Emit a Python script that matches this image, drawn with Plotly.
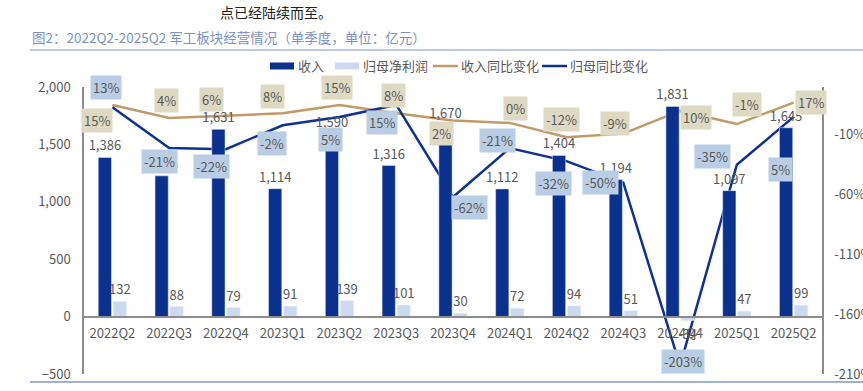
import plotly.graph_objects as go

# ---------------- data ----------------
quarters = ["2022Q2", "2022Q3", "2022Q4", "2023Q1", "2023Q2", "2023Q3", "2023Q4",
            "2024Q1", "2024Q2", "2024Q3", "2024Q4", "2025Q1", "2025Q2"]
revenue = [1386, 1226, 1631, 1114, 1590, 1316, 1670, 1112, 1404, 1194, 1831, 1097, 1645]
net_profit = [132, 88, 79, 91, 139, 101, 30, 72, 94, 51, -34, 47, 99]
revenue_yoy = [15, 4, 6, 8, 15, 8, 2, 0, -12, -9, 10, -1, 17]
net_yoy = [13, -21, -22, -2, 5, 15, -62, -21, -32, -50, -203, -35, 5]

left_ticks = [-500, 0, 500, 1000, 1500, 2000]
right_ticks = [-210, -160, -110, -60, -10]
right_tick_text = ["-210%", "-160%", "-110%", "-60%", "-10%"]

# label box offsets in pixels (dx, dy downward)
rev_yoy_off = [(-15, 16), (-3, -18), (-14, -16), (-10, -17), (-2, -17), (-3, -18), (-12, 13),
               (6, -14), (-5, -18), (-8, -10), (16, 7), (10, -20), (17, 0)]
net_yoy_off = [(-6, -20), (-10, 14), (-14, 17), (-11, 18), (-9, 23), (-14, 18), (16, 10),
               (-12, -7), (-13, 22), (-23, 0), (3, -4), (-24, -8), (-13, 53)]

# ---------------- style ----------------
FONT = "Noto Sans CJK SC, sans-serif"
TXT = "#595959"
C_REV = "#0B318F"
C_NET = "#CCDAF0"
C_TAN = "#C09A6B"
C_BLUE = "#0E3192"
BOX_TAN = "#DDD9C3"
BOX_BLUE = "#B9CDE5"
AXC = "#8C8C8C"

W, H = 863, 391
L, R, T, B = 84, 822, 87, 374


def px(x):
    return (x - L) / (R - L)


def py(y):
    return (B - y) / (B - T)


fig = go.Figure()

# lines on primary (right) axis, drawn beneath bars
fig.add_trace(go.Scatter(x=quarters, y=revenue_yoy, mode="lines", name="收入同比变化",
                         line=dict(color=C_TAN, width=2.5), xaxis="x", yaxis="y",
                         cliponaxis=False))
fig.add_trace(go.Scatter(x=quarters, y=net_yoy, mode="lines", name="归母同比变化",
                         line=dict(color=C_BLUE, width=2.5), xaxis="x", yaxis="y",
                         cliponaxis=False))
# bars on overlaying (left) axis
fig.add_trace(go.Bar(x=quarters, y=revenue, name="收入", marker_color=C_REV,
                     texttemplate="%{y:,}", textposition="outside", constraintext="none",
                     textfont=dict(size=13, color=TXT, family=FONT),
                     cliponaxis=False, xaxis="x", yaxis="y2"))
fig.add_trace(go.Bar(x=quarters, y=net_profit, name="归母净利润", marker_color=C_NET,
                     texttemplate="%{y:,}", textposition="outside", constraintext="none",
                     textfont=dict(size=13, color=TXT, family=FONT),
                     cliponaxis=False, xaxis="x", yaxis="y2"))

annotations = []
for i, q in enumerate(quarters):
    dx, dy = rev_yoy_off[i]
    annotations.append(dict(x=q, y=revenue_yoy[i], xref="x", yref="y", text=f"{revenue_yoy[i]}%",
                            showarrow=False, xshift=dx, yshift=-dy, bgcolor=BOX_TAN,
                            borderpad=2, font=dict(size=13, color=TXT, family=FONT)))
for i, q in enumerate(quarters):
    dx, dy = net_yoy_off[i]
    annotations.append(dict(x=q, y=net_yoy[i], xref="x", yref="y", text=f"{net_yoy[i]}%",
                            showarrow=False, xshift=dx, yshift=-dy, bgcolor=BOX_BLUE,
                            borderpad=2, font=dict(size=13, color=TXT, family=FONT)))

# header texts
annotations.append(dict(x=px(218), y=py(12), xref="paper", yref="paper", text="点已经陆续而至。",
                        showarrow=False, xanchor="left", yanchor="middle",
                        font=dict(size=14, color="#222222", family=FONT)))
annotations.append(dict(x=px(30), y=py(37), xref="paper", yref="paper",
                        text="图2：2022Q2-2025Q2 军工板块经营情况（单季度，单位：亿元）",
                        showarrow=False, xanchor="left", yanchor="middle",
                        font=dict(size=13.5, color="#7D91C6", family=FONT)))
annotations.append(dict(x=px(35), y=py(385), xref="paper", yref="paper",
                        text="资料来源：Wind，中国银河证券研究院",
                        showarrow=False, xanchor="left", yanchor="top",
                        font=dict(size=13, color="#333333", family=FONT)))

shapes = [
    dict(type="line", xref="paper", yref="paper", x0=px(30), x1=px(863), y0=py(50), y1=py(50),
         line=dict(color="#A9B8DC", width=1.5)),
    dict(type="line", xref="paper", yref="paper", x0=px(30), x1=px(863), y0=py(382), y1=py(382),
         line=dict(color="#7F96CC", width=1.5)),
]

# custom legend
legend_items = [
    ("rect", C_REV, 270, "收入"),
    ("rect", C_NET, 335, "归母净利润"),
    ("line", C_TAN, 433, "收入同比变化"),
    ("line", C_BLUE, 542, "归母同比变化"),
]
ly = 66
for kind, col, x0, label in legend_items:
    if kind == "rect":
        shapes.append(dict(type="rect", xref="paper", yref="paper", x0=px(x0), x1=px(x0 + 24),
                           y0=py(ly + 3.5), y1=py(ly - 3.5), fillcolor=col, line=dict(width=0)))
    else:
        shapes.append(dict(type="line", xref="paper", yref="paper", x0=px(x0), x1=px(x0 + 25),
                           y0=py(ly), y1=py(ly), line=dict(color=col, width=2.5)))
    annotations.append(dict(x=px(x0 + 26), y=py(ly), xref="paper", yref="paper", text=label,
                            showarrow=False, xanchor="left", yanchor="middle",
                            font=dict(size=13, color=TXT, family=FONT)))

fig.update_layout(
    width=W, height=H,
    margin=dict(l=L, r=W - R, t=T, b=H - B, pad=0, autoexpand=False),
    paper_bgcolor="white", plot_bgcolor="white",
    showlegend=False,
    barmode="group", bargap=0.47, bargroupgap=0.12,
    font=dict(family=FONT, size=13, color=TXT),
    xaxis=dict(type="category", range=[-0.5, len(quarters) - 0.5], anchor="free",
               position=(B - 317) / (B - T), showline=True, linecolor=AXC, linewidth=1.5,
               ticks="", showgrid=False, zeroline=False, ticklabelstandoff=5, automargin=False,
               tickfont=dict(size=13, color=TXT, family=FONT)),
    yaxis=dict(range=[-210, 30], side="right", tickmode="array", tickvals=right_ticks,
               ticktext=right_tick_text,
               showline=True, linecolor=AXC, linewidth=1.5, showgrid=False, zeroline=False,
               ticks="", ticklabelstandoff=8, automargin=False,
               tickfont=dict(size=13, color=TXT, family=FONT)),
    yaxis2=dict(range=[-500, 2000], side="left", overlaying="y", tickvals=left_ticks,
                tickformat=",", showline=True, linecolor=AXC, linewidth=1.5, showgrid=False,
                zeroline=False, ticks="", ticklabelstandoff=9, automargin=False,
                tickfont=dict(size=13, color=TXT, family=FONT)),
    annotations=annotations,
    shapes=shapes,
)

fig.write_html("out.html", config={"displayModeBar": False},
               post_script="document.body.style.margin='0';")
